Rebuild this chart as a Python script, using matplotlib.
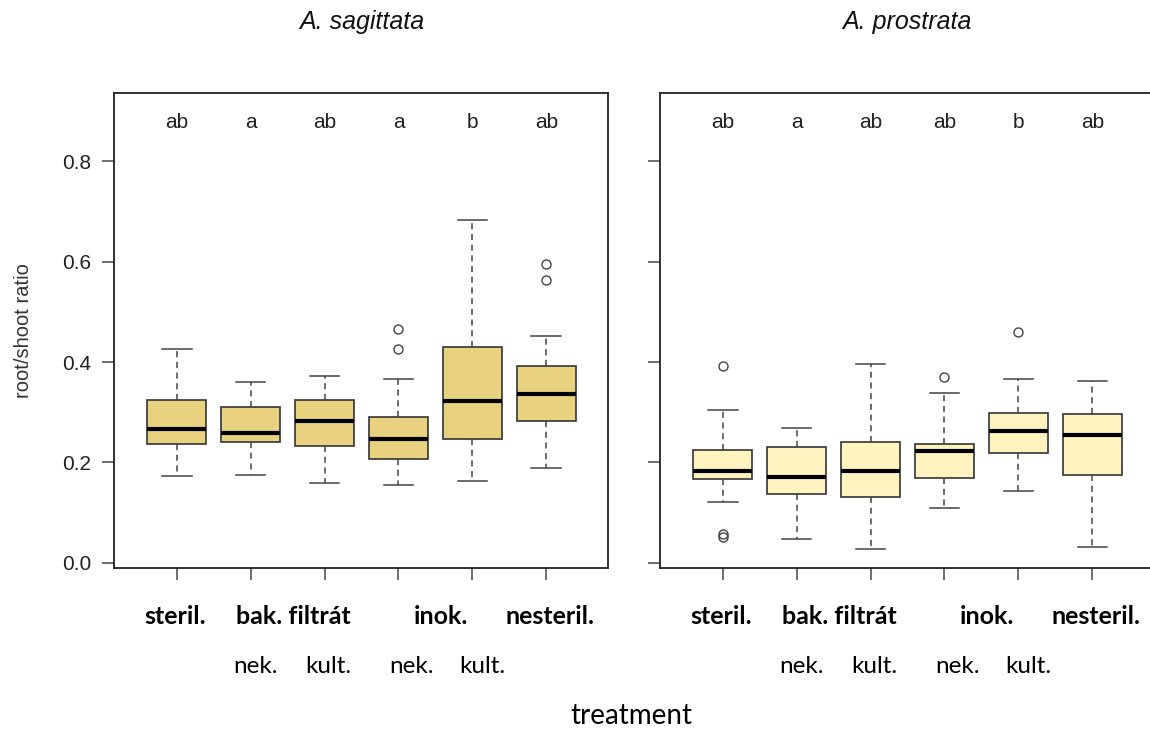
import matplotlib.pyplot as plt
import matplotlib.transforms as mtransforms
import numpy as np

# five-number summaries, one entry per treatment
sag_whislo = [0.172, 0.174, 0.158, 0.155, 0.163, 0.188]
sag_q1 = [0.237, 0.240, 0.232, 0.206, 0.246, 0.283]
sag_med = [0.267, 0.259, 0.283, 0.246, 0.323, 0.336]
sag_q3 = [0.325, 0.310, 0.325, 0.290, 0.429, 0.392]
sag_whishi = [0.426, 0.360, 0.373, 0.367, 0.683, 0.452]
sag_fliers = [[], [], [], [0.426, 0.466], [], [0.564, 0.596]]
sag_letters = ["ab", "a", "ab", "a", "b", "ab"]

pro_whislo = [0.121, 0.047, 0.027, 0.110, 0.142, 0.032]
pro_q1 = [0.166, 0.137, 0.132, 0.168, 0.219, 0.175]
pro_med = [0.183, 0.171, 0.182, 0.222, 0.262, 0.254]
pro_q3 = [0.225, 0.230, 0.240, 0.237, 0.299, 0.297]
pro_whishi = [0.304, 0.268, 0.397, 0.339, 0.367, 0.362]
pro_fliers = [[0.052, 0.058, 0.392], [], [], [0.370], [0.460], []]
pro_letters = ["ab", "a", "ab", "ab", "b", "ab"]

main_labels = ["steril.", "bak. filtrát", "inok.", "nesteril."]
main_pos = [0.98, 2.58, 4.57, 6.05]
sub_labels = ["nek.", "kult.", "nek.", "kult."]
sub_pos = [2.06, 3.05, 4.18, 5.14]

DPI = 100
EDGE = "#333333"


def make_stats(lo, q1, med, q3, hi, fl):
    return [
        dict(whislo=a, q1=b, med=c, q3=d, whishi=e, fliers=np.array(f))
        for a, b, c, d, e, f in zip(lo, q1, med, q3, hi, fl)
    ]


def draw_panel(ax, stats, letters, fill, title, show_labels):
    pos = np.arange(1, len(stats) + 1)
    ax.bxp(
        stats,
        positions=pos,
        widths=0.8,
        capwidths=0.4,
        patch_artist=True,
        boxprops=dict(facecolor=fill, edgecolor=EDGE, linewidth=1.2),
        medianprops=dict(color="black", linewidth=3.0, solid_capstyle="butt"),
        whiskerprops=dict(color="#444444", linewidth=1.1, linestyle=(0, (4, 3))),
        capprops=dict(color="#444444", linewidth=1.1),
        flierprops=dict(marker="o", markersize=6.5, markerfacecolor="none",
                        markeredgecolor="#444444", markeredgewidth=1.0),
    )
    ax.set_xlim(0.155, 6.84)
    ax.set_ylim(-0.011, 0.935)
    ax.set_yticks([0.0, 0.2, 0.4, 0.6, 0.8])
    if show_labels:
        ax.set_yticklabels(["0.0", "0.2", "0.4", "0.6", "0.8"],
                           family="Liberation Sans", fontsize=15, color="#222222")
    else:
        ax.set_yticklabels([])
    ax.set_xticks(pos)
    ax.set_xticklabels([])
    ax.tick_params(length=8.5, width=1.2, color="#555555", pad=8)
    for s in ax.spines.values():
        s.set_linewidth(1.3)
        s.set_color("#222222")

    for x, t in zip(pos, letters):
        ax.text(x, 0.878, t, ha="center", va="center", fontsize=15,
                family="Liberation Sans", color="#222222")

    ax.set_title(title, fontsize=18, style="italic", family="Liberation Sans",
                 color="#111111", pad=0, y=1.0 + 64 / 474.8)

    tr = mtransforms.blended_transform_factory(ax.transData, ax.figure.transFigure)
    for x, t in zip(main_pos, main_labels):
        ax.text(x, 0.156, t, transform=tr, ha="center", va="center",
                fontsize=18, family="Lato", fontweight="bold", color="black")
    for x, t in zip(sub_pos, sub_labels):
        ax.text(x, 0.0876, t, transform=tr, ha="center", va="center",
                fontsize=17.5, family="Lato", color="black")


fig = plt.figure(figsize=(1150 / DPI, 731 / DPI), dpi=DPI)
ax1 = fig.add_axes([0.0994, 0.2226, 0.4296, 0.6495])
ax2 = fig.add_axes([0.5742, 0.2226, 0.4296, 0.6495])

draw_panel(ax1, make_stats(sag_whislo, sag_q1, sag_med, sag_q3, sag_whishi, sag_fliers),
           sag_letters, "#E9D27F", "A. sagittata", True)
draw_panel(ax2, make_stats(pro_whislo, pro_q1, pro_med, pro_q3, pro_whishi, pro_fliers),
           pro_letters, "#FFF4C0", "A. prostrata", False)

ax1.set_ylabel("root/shoot ratio", fontsize=14.5, family="Liberation Sans",
               color="#333333")
ax1.yaxis.set_label_coords(-0.165, 0.5)

fig.text(0.549, 0.02, "treatment", ha="center", va="center", fontsize=20,
         family="Lato", color="black")

fig.savefig("out.png", dpi=DPI)
